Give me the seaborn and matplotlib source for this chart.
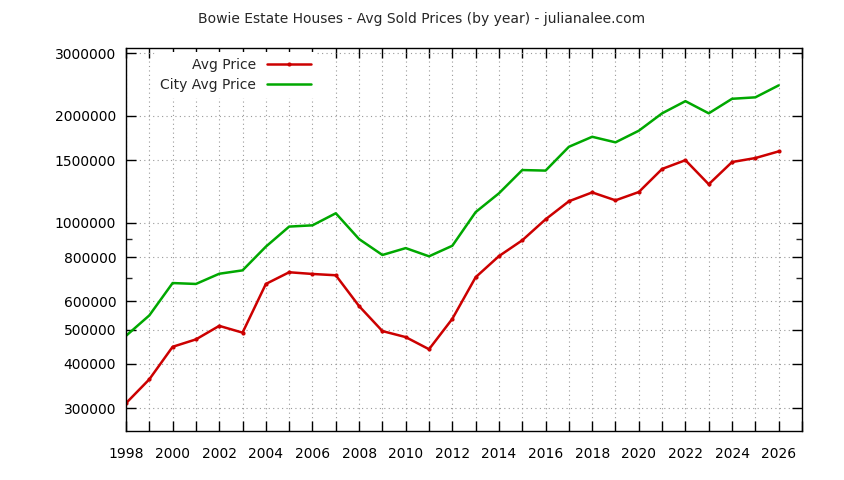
import numpy as np
import pandas as pd
import matplotlib
matplotlib.use("Agg")
import matplotlib.pyplot as plt
import seaborn as sns
from matplotlib.ticker import FixedLocator, NullFormatter

# -----------------------------
# data
# -----------------------------
years = list(range(1998, 2027))
avg_price = [310000, 362000, 447000, 469000, 512000, 490000, 672000, 725000,
             717000, 711000, 582000, 495000, 476000, 440000, 536000, 702000,
             805000, 892000, 1022000, 1149000, 1217000, 1156000, 1220000,
             1417000, 1500000, 1283000, 1482000, 1521000, 1588000]
city_avg_price = [480000, 548000, 676000, 672000, 718000, 734000, 856000, 975000,
                  983000, 1063000, 899000, 811000, 848000, 804000, 861000, 1071000,
                  1210000, 1407000, 1402000, 1636000, 1746000, 1684000, 1816000,
                  2033000, 2200000, 2033000, 2234000, 2255000, 2437000]
y_ticks = [300000, 400000, 500000, 600000, 800000, 1000000, 1500000, 2000000, 3000000]
y_minor = [700000, 900000]

df = pd.DataFrame({"Year": years, "Avg Price": avg_price, "City Avg Price": city_avg_price})

# -----------------------------
# figure
# -----------------------------
sns.set_style("white")
plt.rcParams["font.family"] = ["DejaVu Sans"]
plt.rcParams["font.size"] = 10
plt.rcParams["xtick.direction"] = "in"
plt.rcParams["ytick.direction"] = "in"

fig = plt.figure(figsize=(8.44, 4.8), dpi=100)
ax = fig.add_axes([0.1493, 0.1015, 0.8009, 0.7978])

sns.lineplot(data=df, x="Year", y="Avg Price", ax=ax, color="#cc0000", linewidth=1.8,
             marker="o", markersize=3, markeredgewidth=0, label="Avg Price")
sns.lineplot(data=df, x="Year", y="City Avg Price", ax=ax, color="#00a800", linewidth=1.8,
             label="City Avg Price")

ax.set_yscale("log")
ax.set_ylim(258400, 3099000)
ax.set_xlim(1998, 2027)

ax.yaxis.set_major_locator(FixedLocator(y_ticks))
ax.yaxis.set_minor_locator(FixedLocator(y_minor))
ax.set_yticklabels([str(v) for v in y_ticks])
ax.yaxis.set_minor_formatter(NullFormatter())

ax.xaxis.set_major_locator(FixedLocator(list(range(1998, 2028))))
ax.set_xticklabels([str(y) if y % 2 == 0 and y <= 2026 else "" for y in range(1998, 2028)])

ax.tick_params(axis="both", which="major", direction="in", length=7, width=1,
               top=True, bottom=True, left=True, right=True, colors="black", labelsize=10)
ax.tick_params(axis="y", which="major", pad=7)
ax.tick_params(axis="x", which="major", pad=11)
ax.tick_params(axis="y", which="minor", direction="in", length=4, width=1, right=True, left=True)

ax.grid(True, which="major", linestyle=(0, (1, 3)), color="#999999", linewidth=0.8)
for s in ax.spines.values():
    s.set_color("black")
    s.set_linewidth(1)

ax.set_xlabel("")
ax.set_ylabel("")

leg = ax.legend(loc="upper left", bbox_to_anchor=(0.042, 0.99), markerfirst=False,
                frameon=True, fontsize=10, handlelength=3.2, borderaxespad=0,
                labelspacing=0.45, handletextpad=0.8)
leg.get_frame().set_facecolor("white")
leg.get_frame().set_edgecolor("none")
leg.get_frame().set_alpha(1)
for t in leg.get_texts():
    t.set_ha("right")
leg._legend_box.align = "right"

fig.text(0.5, 0.96, "Bowie Estate Houses - Avg Sold Prices (by year) - julianalee.com",
         ha="center", va="center", fontsize=10)

plt.savefig("out.png", dpi=100)
